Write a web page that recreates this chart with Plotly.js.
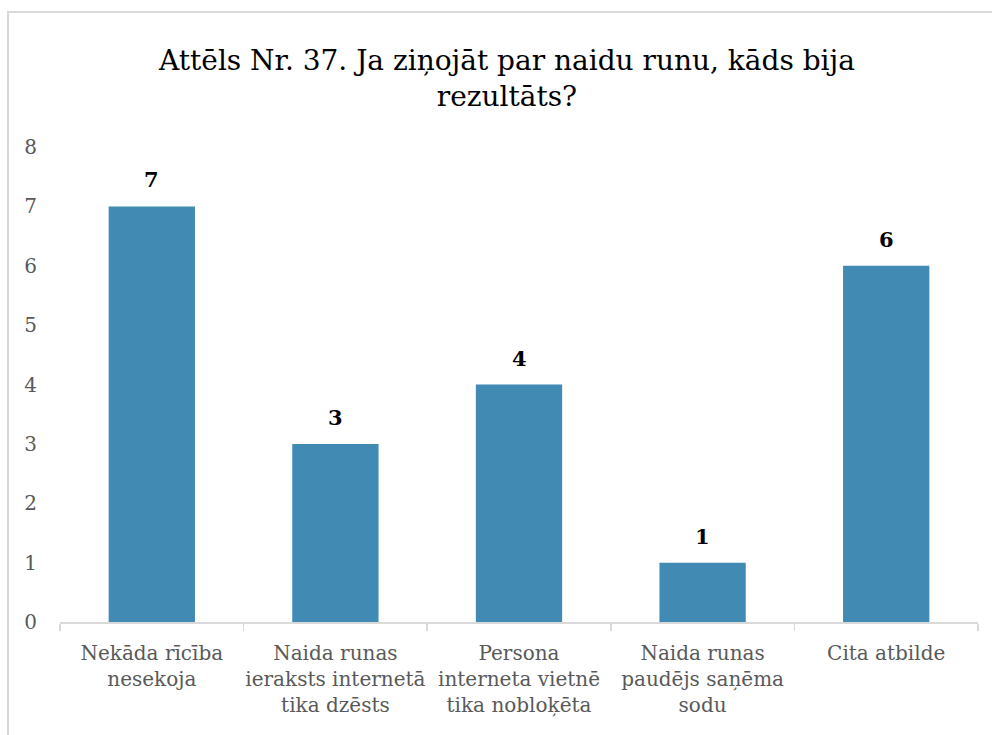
<!DOCTYPE html>
<html>
<head>
<meta charset="utf-8">
<script src="https://cdn.plot.ly/plotly-3.0.1.min.js"></script>
<style>
html,body{margin:0;padding:0;background:#fff;}
#wrap{position:relative;width:992px;height:735px;overflow:hidden;}
#chart{position:absolute;left:0;top:0;width:992px;height:735px;}
#frame{position:absolute;left:7px;top:11px;width:1000px;height:740px;border-left:2px solid #d9d9d9;border-top:2px solid #d9d9d9;pointer-events:none;}
</style>
</head>
<body>
<div id="wrap"><div id="chart"></div><div id="frame"></div></div>
<script>
const categories = [
  "Nekāda rīcība<br>nesekoja",
  "Naida runas<br>ieraksts internetā<br>tika dzēsts",
  "Persona<br>interneta vietnē<br>tika nobloķēta",
  "Naida runas<br>paudējs saņēma<br>sodu",
  "Cita atbilde"
];
const values = [7, 3, 4, 1, 6];
const titleText = "Attēls Nr. 37. Ja ziņojāt par naidu runu, kāds bija<br>rezultāts?";

const font = "DejaVu Serif, Liberation Serif, serif";

const trace = {
  type: "bar",
  x: categories,
  y: values,
  marker: {color: "#418ab3"},
  hoverinfo: "x+y"
};

const annotations = categories.map((c, i) => ({
  x: c, y: values[i], xref: "x", yref: "y",
  text: "<b>" + values[i] + "</b>",
  showarrow: false, yanchor: "bottom", yshift: 12,
  font: {family: font, size: 21, color: "#000"}
}));

const layout = {
  width: 992, height: 735,
  margin: {l: 60, r: 14, t: 147, b: 113},
  paper_bgcolor: "#fff", plot_bgcolor: "#fff",
  bargap: 0.53,
  showlegend: false,
  title: {
    text: titleText,
    font: {family: font, size: 28, color: "#000"},
    x: 507/992, xanchor: "center",
    y: 1 - 70/735, yref: "container", yanchor: "middle"
  },
  xaxis: {
    type: "category",
    tickson: "boundaries",
    tickangle: 0,
    ticks: "outside", ticklen: 7, tickcolor: "#d9d9d9", tickwidth: 1.5,
    showline: true, linecolor: "#d9d9d9", linewidth: 1.5,
    showgrid: false, zeroline: false,
    tickfont: {family: font, size: 20, color: "#595959"},
    ticklabelstandoff: 12,
    automargin: false
  },
  yaxis: {
    range: [0, 8], dtick: 1,
    showgrid: false, zeroline: false, showline: false, ticks: "",
    tickfont: {family: font, size: 20, color: "#595959"},
    ticklabelstandoff: 22,
    automargin: false
  },
  annotations: annotations
};

Plotly.newPlot("chart", [trace], layout, {displayModeBar: false, staticPlot: true});
</script>
</body>
</html>
